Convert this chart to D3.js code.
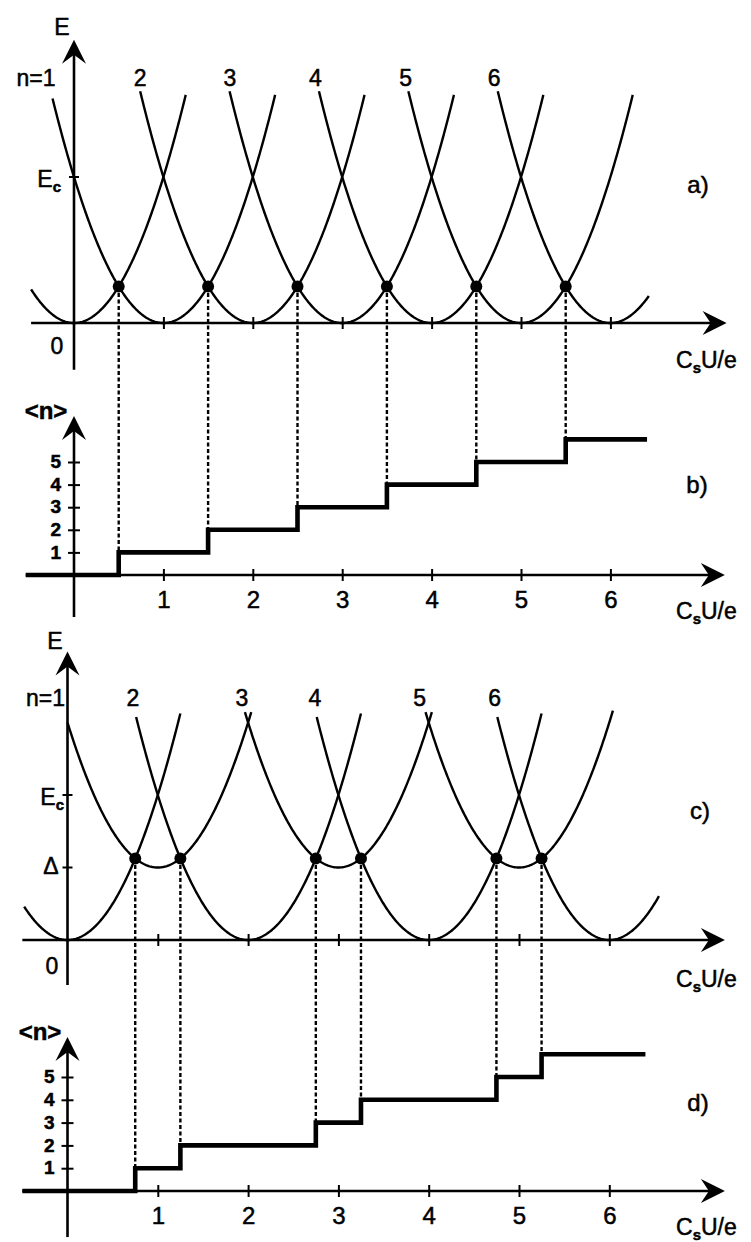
<!DOCTYPE html>
<html>
<head>
<meta charset="utf-8">
<script src="https://cdn.jsdelivr.net/npm/d3@7"></script>
<style>
    body { margin: 0; background: #fff; }
    svg text { font-family: "Liberation Sans", Arial, Helvetica, sans-serif; fill: #000; stroke: #000; stroke-width: 0.5px; }
</style>
</head>
<body>
<div id="chart"></div>
<script>
// Parabola minima along C_sU/e, energy offsets (units of E_c) and drawn x-ranges
const centers = [0, 1, 2, 3, 4, 5, 6];
const offsetsA = [0, 0, 0, 0, 0, 0, 0];
const rangesA = [[-0.48, 1.25], [-0.24, 2.25], [0.74, 3.25], [1.74, 4.25], [2.74, 5.25], [3.74, 6.25], [4.74, 6.43]];
const delta = 0.5;
const offsetsC = [0, delta, 0, delta, 0, delta, 0];
const rangesC = [[-0.48, 1.25], [0, 2.035], [0.76, 3.25], [1.965, 4.035], [2.76, 5.25], [3.965, 6.04], [4.76, 6.55]];

// Curve labels
const curveLabels = ["n=1", "2", "3", "4", "5", "6"];
const labelXA = [-0.24, 0.74, 1.745, 2.7, 3.71, 4.7];
const labelXC = [-0.06, 0.725, 1.93, 2.74, 3.9, 4.73];

// Crossing points (degeneracy points)
const dotXA = [0.5, 1.5, 2.5, 3.5, 4.5, 5.5];
const dotEA = [0.25, 0.25, 0.25, 0.25, 0.25, 0.25];
const dotXC = [0.75, 1.25, 2.75, 3.25, 4.75, 5.25];
const dotEC = [0.5625, 0.5625, 0.5625, 0.5625, 0.5625, 0.5625];

// Staircases <n>
const stepXB = [-0.54, 0.5, 1.5, 2.5, 3.5, 4.5, 5.5, 6.41];
const stepNB = [0, 1, 2, 3, 4, 5, 6, 6];
const stepXD = [-0.5, 0.75, 1.25, 2.75, 3.25, 4.75, 5.25, 6.4];
const stepND = [0, 1, 2, 3, 4, 5, 6, 6];

const xTicks = [1, 2, 3, 4, 5, 6];
const nTicks = [1, 2, 3, 4, 5];

const W = 751, H = 1242;
const svg = d3.select("#chart").append("svg")
    .attr("width", W)
    .attr("height", H);

// Scales
const xAB = d3.scaleLinear().domain([0, 6]).range([74, 610.4]);
const xCD = d3.scaleLinear().domain([0, 6]).range([67.5, 609.3]);
const yA = d3.scaleLinear().domain([0, 1]).range([323, 177]);
const yB = d3.scaleLinear().domain([0, 5]).range([575, 462]);
const yC = d3.scaleLinear().domain([0, 1]).range([940, 795]);
const yD = d3.scaleLinear().domain([0, 5]).range([1191, 1077]);

function arrowRight(x, y) {
    svg.append("path")
        .attr("d", `M${x},${y} L${x - 24},${y - 12} L${x - 16},${y} L${x - 24},${y + 12} Z`)
        .attr("fill", "#000");
}
function arrowUp(x, y) {
    svg.append("path")
        .attr("d", `M${x},${y} L${x - 12},${y + 24} L${x},${y + 15} L${x + 12},${y + 24} Z`)
        .attr("fill", "#000");
}

function axisLine(x1, y1, x2, y2) {
    svg.append("line")
        .attr("x1", x1).attr("y1", y1)
        .attr("x2", x2).attr("y2", y2)
        .attr("stroke", "#000")
        .attr("stroke-width", 2.6);
}

// Crossing ticks on the horizontal axis (optionally labelled)
function xAxis(x, y0, labelled) {
    const g = svg.append("g")
        .attr("transform", `translate(0,${y0})`)
        .call(d3.axisBottom(x).tickValues(xTicks).tickSize(5).tickFormat(labelled ? d3.format("d") : ""));
    g.select(".domain").remove();
    g.selectAll(".tick line").attr("y1", -6).attr("y2", 6).attr("stroke", "#000").attr("stroke-width", 2);
    g.selectAll(".tick text")
        .attr("y", 33)
        .attr("dy", 0)
        .attr("font-size", 24)
        .attr("font-family", "Liberation Sans, Arial, sans-serif");
}

function nAxis(y, x0) {
    const g = svg.append("g")
        .attr("transform", `translate(${x0},0)`)
        .call(d3.axisLeft(y).tickValues(nTicks).tickSize(5).tickFormat(d3.format("d")));
    g.select(".domain").remove();
    g.selectAll(".tick line").attr("x1", -6).attr("x2", 6).attr("stroke", "#000").attr("stroke-width", 2);
    g.selectAll(".tick text")
        .attr("x", -13)
        .attr("dy", "0.3em")
        .attr("font-size", 19)
        .attr("font-weight", "bold")
        .attr("font-family", "Liberation Sans, Arial, sans-serif");
}

function eTick(x0, yPix) {
    svg.append("line")
        .attr("x1", x0 - 5).attr("x2", x0 + 5)
        .attr("y1", yPix).attr("y2", yPix)
        .attr("stroke", "#000").attr("stroke-width", 2);
}

function label(x, y, txt, size, anchor, weight) {
    return svg.append("text")
        .attr("x", x).attr("y", y)
        .attr("font-size", size)
        .attr("text-anchor", anchor || "middle")
        .attr("font-weight", weight || "normal")
        .text(txt);
}

function subLabel(x, y, main, sub, rest, anchor) {
    const t = svg.append("text")
        .attr("x", x).attr("y", y)
        .attr("font-size", 23)
        .attr("text-anchor", anchor || "start");
    t.append("tspan").text(main);
    t.append("tspan").attr("font-size", 15).attr("font-weight", "bold").attr("dy", 5).text(sub);
    if (rest) t.append("tspan").attr("dy", -5).text(rest);
    return t;
}

function parabolas(x, y, offsets, ranges) {
    centers.forEach((m, i) => {
        const [lo, hi] = ranges[i];
        const pts = d3.range(lo, hi, 0.01).concat([hi])
            .map(v => [v, offsets[i] + (v - m) * (v - m)]);
        const line = d3.line().x(d => x(d[0])).y(d => y(d[1]));
        svg.append("path")
            .datum(pts)
            .attr("fill", "none")
            .attr("stroke", "#000")
            .attr("stroke-width", 2.4)
            .attr("d", line);
    });
}

function staircase(x, y, xs, ns) {
    const line = d3.line()
        .x((d, i) => x(xs[i]))
        .y(d => y(d))
        .curve(d3.curveStepAfter);
    svg.append("path")
        .datum(ns)
        .attr("fill", "none")
        .attr("stroke", "#000")
        .attr("stroke-width", 4.6)
        .attr("d", line);
}

function dashes(x, yTop, yBot, dotX, dotE) {
    dotX.forEach((v, i) => {
        svg.append("line")
            .attr("x1", x(v)).attr("x2", x(v))
            .attr("y1", yTop(dotE[i])).attr("y2", yBot(i + 1))
            .attr("stroke", "#000")
            .attr("stroke-width", 2.4)
            .attr("stroke-dasharray", "4,2.5");
    });
}

function dots(x, y, dotX, dotE) {
    svg.selectAll(null)
        .data(dotX)
        .enter()
        .append("circle")
        .attr("cx", d => x(d))
        .attr("cy", (d, i) => y(dotE[i]))
        .attr("r", 6)
        .attr("fill", "#000");
}

function curveLabelSet(x, yBase, xs) {
    xs.forEach((v, i) => {
        label(x(v) + (i === 0 ? 3 : 0), yBase, curveLabels[i], 23, i === 0 ? "end" : "middle");
    });
}

// ---------- panel a ----------
dashes(xAB, yA, yB, dotXA, dotEA);
axisLine(xAB(-0.48), yA(0), xAB(7.3) - 10, yA(0));
arrowRight(xAB(7.3), yA(0));
axisLine(xAB(0), yA(-0.32), xAB(0), yA(1.94) + 10);
arrowUp(xAB(0), yA(1.94));
xAxis(xAB, yA(0), false);
eTick(xAB(0), yA(1));
parabolas(xAB, yA, offsetsA, rangesA);
dots(xAB, yA, dotXA, dotEA);
curveLabelSet(xAB, 86, labelXA);
label(62, 35, "E", 23);
subLabel(61, 187, "E", "c", null, "end");
label(57, 354, "0", 23);
label(698, 193, "a)", 24);
subLabel(676, 368, "C", "s", "U/e");

// ---------- panel b ----------
axisLine(xAB(-0.54), yB(0), xAB(7.28) - 10, yB(0));
arrowRight(xAB(7.28), yB(0));
axisLine(xAB(0), yB(-1.86), xAB(0), yB(7.03) + 10);
arrowUp(xAB(0), yB(7.03));
xAxis(xAB, yB(0), true);
nAxis(yB, xAB(0));
staircase(xAB, yB, stepXB, stepNB);
label(46, 419, "<n>", 24, "middle", "bold");
label(697, 493, "b)", 24);
subLabel(676, 619, "C", "s", "U/e");

// ---------- panel c ----------
dashes(xCD, yC, yD, dotXC, dotEC);
axisLine(xCD(-0.5), yC(0), xCD(7.28) - 10, yC(0));
arrowRight(xCD(7.28), yC(0));
axisLine(xCD(0), yC(-0.31), xCD(0), yC(1.99) + 10);
arrowUp(xCD(0), yC(1.99));
xAxis(xCD, yC(0), false);
eTick(xCD(0), yC(1));
eTick(xCD(0), yC(delta));
parabolas(xCD, yC, offsetsC, rangesC);
dots(xCD, yC, dotXC, dotEC);
curveLabelSet(xCD, 706, labelXC);
label(55, 649, "E", 23);
subLabel(64, 805, "E", "c", null, "end");
label(51, 874, "\u0394", 23);
label(52, 974, "0", 23);
label(700, 819, "c)", 24);
subLabel(676, 987, "C", "s", "U/e");

// ---------- panel d ----------
axisLine(xCD(-0.5), yD(0), xCD(7.28) - 10, yD(0));
arrowRight(xCD(7.28), yD(0));
axisLine(xCD(0), yD(-2.02), xCD(0), yD(6.75) + 10);
arrowUp(xCD(0), yD(6.75));
xAxis(xCD, yD(0), true);
nAxis(yD, xCD(0));
staircase(xCD, yD, stepXD, stepND);
label(40, 1040, "<n>", 24, "middle", "bold");
label(698, 1111, "d)", 24);
subLabel(676, 1235, "C", "s", "U/e");
</script>
</body>
</html>
